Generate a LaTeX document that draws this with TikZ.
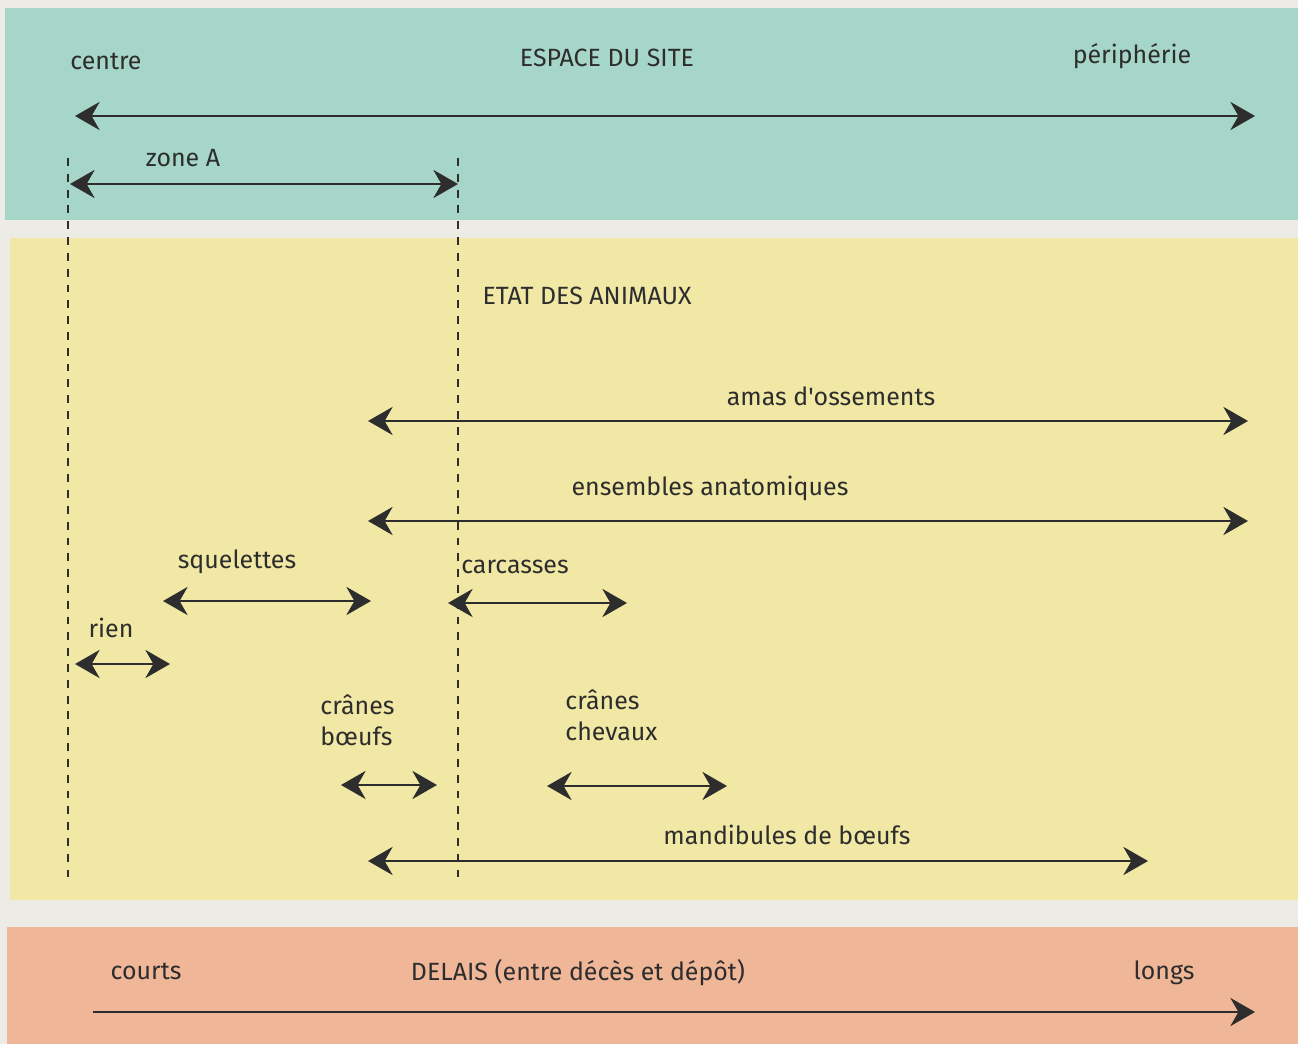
\documentclass[tikz,border=0pt]{standalone}
\usepackage{fontspec}
\setmainfont{Fira Sans}
\usetikzlibrary{arrows.meta}
\definecolor{paper}{RGB}{236,235,230}
\definecolor{siteband}{RGB}{166,214,200}
\definecolor{etatband}{RGB}{240,232,164}
\definecolor{delaiband}{RGB}{240,182,152}
\definecolor{ink}{RGB}{45,45,45}

\begin{document}
\begin{tikzpicture}[
    x=0.02cm, y=-0.02cm,
    head/.tip={Stealth[length=14pt,width=16pt]},
    txt/.style={font=\fontsize{14.2}{17.5}\selectfont, text=ink, inner sep=0pt},
    both/.style={head-head, line width=1.4pt, draw=ink},
    onward/.style={-head, line width=1.4pt, draw=ink},
    limit/.style={draw=ink, line width=0.7pt, dash pattern=on 4.5pt off 4.5pt}
]
    % fond et bandes
    \fill[paper] (0,0) rectangle (1298,1044);
    \fill[siteband] (5,8) rectangle (1298,220);
    \fill[etatband] (10,238) rectangle (1298,900);
    \fill[delaiband] (7,927) rectangle (1298,1044);

    % limites de la zone A
    \coordinate (limA1) at (68,158);
    \coordinate (limA2) at (68,878);
    \coordinate (limB1) at (458,158);
    \coordinate (limB2) at (458,878);
    \draw[limit] (limA1) -- (limA2);
    \draw[limit] (limB1) -- (limB2);

    % espace du site
    \node[txt] (centre) at (106,61) {centre};
    \node[txt] (espace) at (607,58) {ESPACE DU SITE};
    \node[txt] (peri) at (1132,56) {périphérie};
    \coordinate (siteL) at (75,116);
    \coordinate (siteR) at (1255,116);
    \draw[both] (siteL) -- (siteR);
    \node[txt] (zoneA) at (183,158) {zone A};
    \coordinate (zoneL) at (70,184);
    \coordinate (zoneR) at (458,184);
    \draw[both] (zoneL) -- (zoneR);

    % etat des animaux
    \node[txt] (etat) at (587,296) {ETAT DES ANIMAUX};
    \node[txt] (amas) at (831,396) {amas d\textquotesingle ossements};
    \coordinate (amasL) at (368,421);
    \coordinate (amasR) at (1248,421);
    \draw[both] (amasL) -- (amasR);
    \node[txt] (ens) at (710,488) {ensembles anatomiques};
    \coordinate (ensL) at (368,521);
    \coordinate (ensR) at (1248,521);
    \draw[both] (ensL) -- (ensR);
    \node[txt] (squel) at (237,562) {squelettes};
    \coordinate (squelL) at (163,601);
    \coordinate (squelR) at (371,601);
    \draw[both] (squelL) -- (squelR);
    \node[txt] (carc) at (515,567) {carcasses};
    \coordinate (carcL) at (448,603);
    \coordinate (carcR) at (627,603);
    \draw[both] (carcL) -- (carcR);
    \node[txt] (rien) at (111,628) {rien};
    \coordinate (rienL) at (75,664);
    \coordinate (rienR) at (170,664);
    \draw[both] (rienL) -- (rienR);
    \node[txt, align=left, anchor=west] (cranesB) at (320,720) {crânes\\bœufs};
    \coordinate (cranesBL) at (341,785);
    \coordinate (cranesBR) at (437,785);
    \draw[both] (cranesBL) -- (cranesBR);
    \node[txt, align=left, anchor=west] (cranesC) at (565,715) {crânes\\chevaux};
    \coordinate (cranesCL) at (547,786);
    \coordinate (cranesCR) at (727,786);
    \draw[both] (cranesCL) -- (cranesCR);
    \node[txt] (mand) at (787,835) {mandibules de bœufs};
    \coordinate (mandL) at (368,861);
    \coordinate (mandR) at (1148,861);
    \draw[both] (mandL) -- (mandR);

    % delais
    \node[txt] (courts) at (146,971) {courts};
    \node[txt] (delais) at (578,973) {DELAIS (entre décès et dépôt)};
    \node[txt] (longs) at (1164,973) {longs};
    \coordinate (delaiL) at (93,1012);
    \coordinate (delaiR) at (1255,1012);
    \draw[onward] (delaiL) -- (delaiR);
\end{tikzpicture}
\end{document}
